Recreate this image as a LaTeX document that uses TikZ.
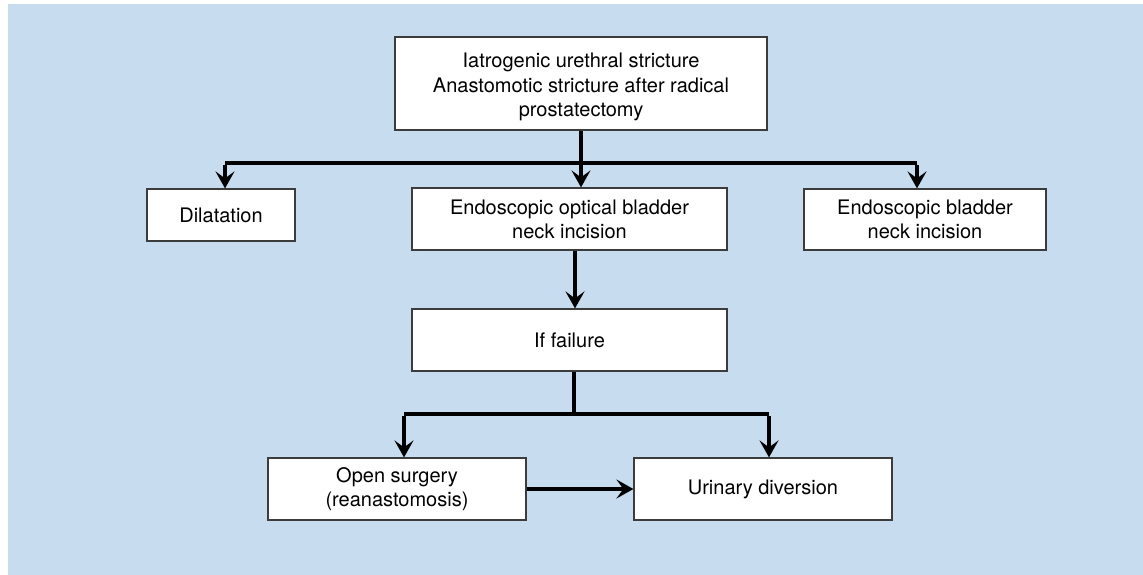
\documentclass[tikz,border=0pt]{standalone}
\usepackage{fontspec}
\setmainfont{TeX Gyre Heros}
\usetikzlibrary{arrows.meta}
\definecolor{bgblue}{HTML}{C8DCEF}
\definecolor{boxline}{HTML}{3C3C3C}
\tikzset{
  txt/.style={align=center, font=\fontsize{20}{24}\selectfont},
  box/.style={draw=boxline, line width=1.2pt, fill=white, inner sep=0pt, txt},
  conn/.style={line width=3.8pt, black},
  arr/.style={conn, -{Stealth[length=17pt, width=19pt, inset=7pt]}}
}
\begin{document}
\begin{tikzpicture}[x=1pt, y=-1pt]
\useasboundingbox (0,0) rectangle (1143,575);
\fill[bgblue] (8,4) rectangle (1143,575);

\node[box, minimum width=372pt, minimum height=93pt,
  label={[txt, yshift=-3.5pt, font=\fontsize{20}{24.5}\selectfont]center:Iatrogenic urethral stricture\\Anastomotic stricture after radical\\prostatectomy}]
  (top) at (581,83.5) {};
\node[box, minimum width=148pt, minimum height=52pt] (dil) at (221,215) {Dilatation};
\node[box, minimum width=315pt, minimum height=62pt] (mid) at (569.5,219)
  {Endoscopic optical bladder\\neck incision};
\node[box, minimum width=242pt, minimum height=61pt] (rt) at (925,219.5)
  {Endoscopic bladder\\neck incision};
\node[box, minimum width=315pt, minimum height=62pt] (fail) at (569.5,340) {If failure};
\node[box, minimum width=258pt, minimum height=62pt] (open) at (397,489)
  {Open surgery\\(reanastomosis)};
\node[box, minimum width=258pt, minimum height=62pt] (urin) at (763,489) {Urinary diversion};

% bus under top box
\coordinate (bl) at (225,163);
\coordinate (br) at (917,163);
\draw[conn] (bl) -- (br);
\draw[arr] (top.south) -- (top.south |- mid.north);
\draw[arr] ([yshift=-1.9pt]bl) -- (bl |- dil.north);
\draw[arr] ([yshift=-1.9pt]br) -- (br |- rt.north);

% mid to fail
\coordinate (mf) at (575,250);
\draw[arr] (mid.south -| mf) -- (fail.north -| mf);

% fail to bottom
\coordinate (fj) at (574,414);
\coordinate (fl) at (404,414);
\coordinate (fr) at (769,414);
\draw[conn] (fail.south -| fj) -- (fj);
\draw[conn] (fl) -- (fr);
\draw[arr] ([yshift=-1.9pt]fl) -- (fl |- open.north);
\draw[arr] ([yshift=-1.9pt]fr) -- (fr |- urin.north);

\draw[arr] (open.east) -- (urin.west);
\end{tikzpicture}
\end{document}
